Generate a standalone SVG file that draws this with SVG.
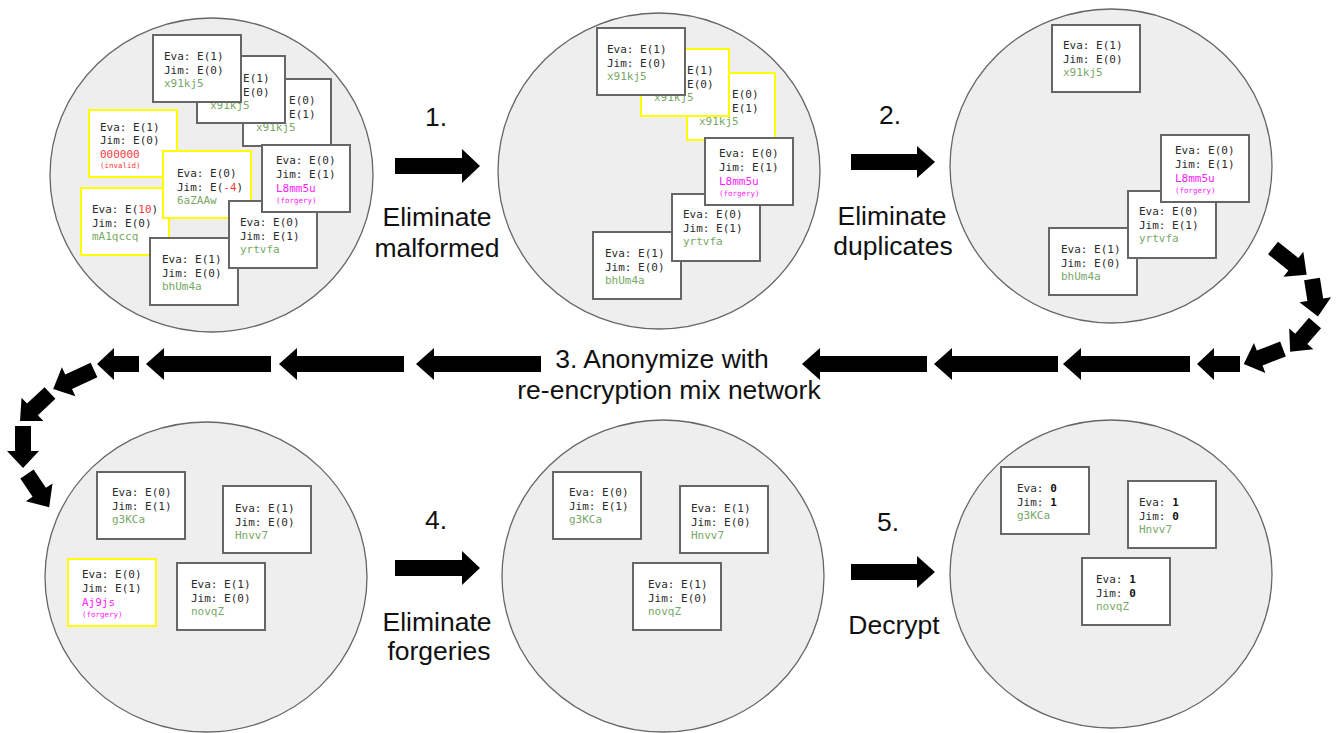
<svg xmlns="http://www.w3.org/2000/svg" width="1338" height="733" viewBox="0 0 1338 733">
<style>
.pool{fill:#eeeeee;stroke:#666;stroke-width:1.3}
.card{fill:#fff;stroke:#666;stroke-width:2}
.ycard{fill:#fff;stroke:#ffff00;stroke-width:2}
.t{font-family:"DejaVu Sans Mono","Liberation Mono",monospace;font-size:11px;fill:#2b2b2b}
.id{fill:#77a867}
.r{fill:#ff3b3b}
.m{fill:#ff22ff}
.sm{font-size:7.5px}
.b{font-weight:bold;fill:#111}
.lbl{font-family:"Liberation Sans",Arial,sans-serif;font-size:26.5px;fill:#111;text-anchor:middle}
.arr{fill:#000}
</style>
<rect width="1338" height="733" fill="#fff"/>

<g id="pool1">
<ellipse class="pool" cx="211.5" cy="175" rx="161.5" ry="157"/>
<g id="c1-C" transform="translate(243,79)"><rect class="card" width="88" height="67"/><text class="t" x="13" y="25">Eva: E(0)</text><text class="t" x="13" y="39">Jim: E(1)</text><text class="t id" x="13" y="52">x91kj5</text></g>
<g id="c1-B" transform="translate(197,56)"><rect class="card" width="88" height="67"/><text class="t" x="13" y="26">Eva: E(1)</text><text class="t" x="13" y="40">Jim: E(0)</text><text class="t id" x="13" y="53">x91kj5</text></g>
<g id="c1-A" transform="translate(153,35)"><rect class="card" width="88" height="67"/><text class="t" x="11" y="25">Eva: E(1)</text><text class="t" x="11" y="39">Jim: E(0)</text><text class="t id" x="11" y="52">x91kj5</text></g>
<g id="c1-D" transform="translate(89,110)"><rect class="ycard" width="88" height="67"/><text class="t" x="11" y="21">Eva: E(1)</text><text class="t" x="11" y="34">Jim: E(0)</text><text class="t r" x="11" y="48">000000</text><text class="t r sm" x="11" y="58">(invalid)</text></g>
<g id="c1-G" transform="translate(81,188)"><rect class="ycard" width="88" height="67"/><text class="t" x="11" y="25">Eva: E(<tspan class="r">10</tspan>)</text><text class="t" x="11" y="39">Jim: E(0)</text><text class="t id" x="11" y="52">mA1qccq</text></g>
<g id="c1-E" transform="translate(163,151)"><rect class="ycard" width="88" height="67"/><text class="t" x="14" y="26">Eva: E(0)</text><text class="t" x="14" y="40">Jim: E(<tspan class="r">-4</tspan>)</text><text class="t id" x="14" y="53">6aZAAw</text></g>
<g id="c1-I" transform="translate(150,238)"><rect class="card" width="88" height="67"/><text class="t" x="12" y="25">Eva: E(1)</text><text class="t" x="12" y="39">Jim: E(0)</text><text class="t id" x="12" y="52">bhUm4a</text></g>
<g id="c1-H" transform="translate(229,201)"><rect class="card" width="88" height="67"/><text class="t" x="11" y="25">Eva: E(0)</text><text class="t" x="11" y="39">Jim: E(1)</text><text class="t id" x="11" y="52">yrtvfa</text></g>
<g id="c1-F" transform="translate(262,145)"><rect class="card" width="88" height="67"/><text class="t" x="14" y="19">Eva: E(0)</text><text class="t" x="14" y="33">Jim: E(1)</text><text class="t m" x="14" y="47">L8mm5u</text><text class="t m sm" x="14" y="58">(forgery)</text></g>
</g>

<g id="pool2">
<ellipse class="pool" cx="659" cy="171" rx="161" ry="158"/>
<g id="c2-C" transform="translate(687,73)"><rect class="ycard" width="88" height="67"/><text class="t" x="12" y="25">Eva: E(0)</text><text class="t" x="12" y="39">Jim: E(1)</text><text class="t id" x="12" y="52">x91kj5</text></g>
<g id="c2-B" transform="translate(641,49)"><rect class="ycard" width="88" height="67"/><text class="t" x="13" y="25">Eva: E(1)</text><text class="t" x="13" y="39">Jim: E(0)</text><text class="t id" x="13" y="52">x91kj5</text></g>
<g id="c2-A" transform="translate(597,28)"><rect class="card" width="88" height="67"/><text class="t" x="10" y="25">Eva: E(1)</text><text class="t" x="10" y="39">Jim: E(0)</text><text class="t id" x="10" y="52">x91kj5</text></g>
<g id="c2-I" transform="translate(593,232)"><rect class="card" width="88" height="67"/><text class="t" x="12" y="25">Eva: E(1)</text><text class="t" x="12" y="39">Jim: E(0)</text><text class="t id" x="12" y="52">bhUm4a</text></g>
<g id="c2-H" transform="translate(672,194)"><rect class="card" width="88" height="67"/><text class="t" x="11" y="24">Eva: E(0)</text><text class="t" x="11" y="38">Jim: E(1)</text><text class="t id" x="11" y="51">yrtvfa</text></g>
<g id="c2-F" transform="translate(705,138)"><rect class="card" width="88" height="67"/><text class="t" x="14" y="19">Eva: E(0)</text><text class="t" x="14" y="33">Jim: E(1)</text><text class="t m" x="14" y="47">L8mm5u</text><text class="t m sm" x="14" y="58">(forgery)</text></g>
</g>

<g id="pool3">
<ellipse class="pool" cx="1111" cy="166" rx="161" ry="157"/>
<g id="c3-A" transform="translate(1052,25)"><rect class="card" width="88" height="67"/><text class="t" x="11" y="24">Eva: E(1)</text><text class="t" x="11" y="38">Jim: E(0)</text><text class="t id" x="11" y="51">x91kj5</text></g>
<g id="c3-I" transform="translate(1049,228)"><rect class="card" width="88" height="67"/><text class="t" x="12" y="25">Eva: E(1)</text><text class="t" x="12" y="39">Jim: E(0)</text><text class="t id" x="12" y="52">bhUm4a</text></g>
<g id="c3-H" transform="translate(1128,191)"><rect class="card" width="88" height="67"/><text class="t" x="11" y="24">Eva: E(0)</text><text class="t" x="11" y="38">Jim: E(1)</text><text class="t id" x="11" y="51">yrtvfa</text></g>
<g id="c3-F" transform="translate(1161,135)"><rect class="card" width="88" height="67"/><text class="t" x="14" y="19">Eva: E(0)</text><text class="t" x="14" y="33">Jim: E(1)</text><text class="t m" x="14" y="47">L8mm5u</text><text class="t m sm" x="14" y="58">(forgery)</text></g>
</g>

<g id="pool4">
<ellipse class="pool" cx="206" cy="577" rx="161" ry="155"/>
<g id="c4-g3KCa" transform="translate(97,472)"><rect class="card" width="88" height="67"/><text class="t" x="15" y="24">Eva: E(0)</text><text class="t" x="15" y="38">Jim: E(1)</text><text class="t id" x="15" y="51">g3KCa</text></g>
<g id="c4-Hnvv7" transform="translate(223,486)"><rect class="card" width="88" height="67"/><text class="t" x="12" y="26">Eva: E(1)</text><text class="t" x="12" y="40">Jim: E(0)</text><text class="t id" x="12" y="53">Hnvv7</text></g>
<g id="c4-Aj9js" transform="translate(68,559)"><rect class="ycard" width="88" height="67"/><text class="t" x="14" y="19">Eva: E(0)</text><text class="t" x="14" y="33">Jim: E(1)</text><text class="t m" x="14" y="47">Aj9js</text><text class="t m sm" x="14" y="58">(forgery)</text></g>
<g id="c4-novqZ" transform="translate(177,563)"><rect class="card" width="88" height="67"/><text class="t" x="14" y="25">Eva: E(1)</text><text class="t" x="14" y="39">Jim: E(0)</text><text class="t id" x="14" y="52">novqZ</text></g>
</g>

<g id="pool5">
<ellipse class="pool" cx="663" cy="576" rx="161" ry="156"/>
<g id="c5-g3KCa" transform="translate(553,472)"><rect class="card" width="88" height="67"/><text class="t" x="16" y="24">Eva: E(0)</text><text class="t" x="16" y="38">Jim: E(1)</text><text class="t id" x="16" y="51">g3KCa</text></g>
<g id="c5-Hnvv7" transform="translate(680,486)"><rect class="card" width="88" height="67"/><text class="t" x="11" y="26">Eva: E(1)</text><text class="t" x="11" y="40">Jim: E(0)</text><text class="t id" x="11" y="53">Hnvv7</text></g>
<g id="c5-novqZ" transform="translate(633,563)"><rect class="card" width="88" height="67"/><text class="t" x="15" y="25">Eva: E(1)</text><text class="t" x="15" y="39">Jim: E(0)</text><text class="t id" x="15" y="52">novqZ</text></g>
</g>

<g id="pool6">
<ellipse class="pool" cx="1111" cy="574" rx="161" ry="154"/>
<g id="c6-g3KCa" transform="translate(1001,467)"><rect class="card" width="88" height="67"/><text class="t" x="16" y="25">Eva: <tspan class="b">0</tspan></text><text class="t" x="16" y="39">Jim: <tspan class="b">1</tspan></text><text class="t id" x="16" y="52">g3KCa</text></g>
<g id="c6-Hnvv7" transform="translate(1128,481)"><rect class="card" width="88" height="67"/><text class="t" x="11" y="25">Eva: <tspan class="b">1</tspan></text><text class="t" x="11" y="39">Jim: <tspan class="b">0</tspan></text><text class="t id" x="11" y="52">Hnvv7</text></g>
<g id="c6-novqZ" transform="translate(1082,558)"><rect class="card" width="88" height="67"/><text class="t" x="14" y="25">Eva: <tspan class="b">1</tspan></text><text class="t" x="14" y="39">Jim: <tspan class="b">0</tspan></text><text class="t id" x="14" y="52">novqZ</text></g>
</g>

<g id="connectors">
<polygon class="arr" transform="translate(395,166)" points="0,-8 67,-8 67,-17 85,0 67,17 67,8 0,8"/>
<polygon class="arr" transform="translate(851,162)" points="0,-8 66,-8 66,-16 84,0 66,16 66,8 0,8"/>
<polygon class="arr" transform="translate(395,568)" points="0,-8 67,-8 67,-17 85,0 67,17 67,8 0,8"/>
<polygon class="arr" transform="translate(851,572)" points="0,-8 66,-8 66,-16 84,0 66,16 66,8 0,8"/>

<polygon class="arr" transform="translate(1273,248) rotate(38.5)" points="0,-8 26,-8 26,-16 43,0 26,16 26,8 0,8"/>
<polygon class="arr" transform="translate(1312,279) rotate(81)" points="0,-8 21,-8 21,-16 38,0 21,16 21,8 0,8"/>
<polygon class="arr" transform="translate(1315,323) rotate(130.8)" points="0,-8 21,-8 21,-16 38,0 21,16 21,8 0,8"/>
<polygon class="arr" transform="translate(1283,349) rotate(159)" points="0,-8 25,-8 25,-16 42,0 25,16 25,8 0,8"/>

<polygon class="arr" transform="translate(1240,364) rotate(180)" points="0,-8 26,-8 26,-16 43,0 26,16 26,8 0,8"/>
<polygon class="arr" transform="translate(1190,364) rotate(180)" points="0,-8 109,-8 109,-16 127,0 109,16 109,8 0,8"/>
<polygon class="arr" transform="translate(1058,364) rotate(180)" points="0,-8 106,-8 106,-16 124,0 106,16 106,8 0,8"/>
<polygon class="arr" transform="translate(927,364) rotate(180)" points="0,-8 107,-8 107,-16 125,0 107,16 107,8 0,8"/>
<polygon class="arr" transform="translate(541,364) rotate(180)" points="0,-8 107,-8 107,-16 125,0 107,16 107,8 0,8"/>
<polygon class="arr" transform="translate(404,364) rotate(180)" points="0,-8 107,-8 107,-16 125,0 107,16 107,8 0,8"/>
<polygon class="arr" transform="translate(271,364) rotate(180)" points="0,-8 107,-8 107,-16 125,0 107,16 107,8 0,8"/>
<polygon class="arr" transform="translate(139,364) rotate(180)" points="0,-8 25,-8 25,-16 42,0 25,16 25,8 0,8"/>

<polygon class="arr" transform="translate(94,370) rotate(155)" points="0,-8 28,-8 28,-16 45,0 28,16 28,8 0,8"/>
<polygon class="arr" transform="translate(50,393) rotate(137)" points="0,-8 24,-8 24,-16 41,0 24,16 24,8 0,8"/>
<polygon class="arr" transform="translate(23,426) rotate(90)" points="0,-8 25,-8 25,-16 42,0 25,16 25,8 0,8"/>
<polygon class="arr" transform="translate(27,474) rotate(56.3)" points="0,-8 22,-8 22,-16 40,0 22,16 22,8 0,8"/>
</g>

<g id="labels">
<text class="lbl" x="436" y="126">1.</text>
<text class="lbl" x="437" y="226">Eliminate</text>
<text class="lbl" x="437" y="257">malformed</text>
<text class="lbl" x="890" y="124">2.</text>
<text class="lbl" x="892" y="225">Eliminate</text>
<text class="lbl" x="893" y="255">duplicates</text>
<text class="lbl" x="662" y="368">3. Anonymize with</text>
<text class="lbl" x="669" y="399">re-encryption mix network</text>
<text class="lbl" x="436" y="529">4.</text>
<text class="lbl" x="437" y="631">Eliminate</text>
<text class="lbl" x="439" y="660">forgeries</text>
<text class="lbl" x="888" y="531">5.</text>
<text class="lbl" x="894" y="634">Decrypt</text>
</g>
</svg>
